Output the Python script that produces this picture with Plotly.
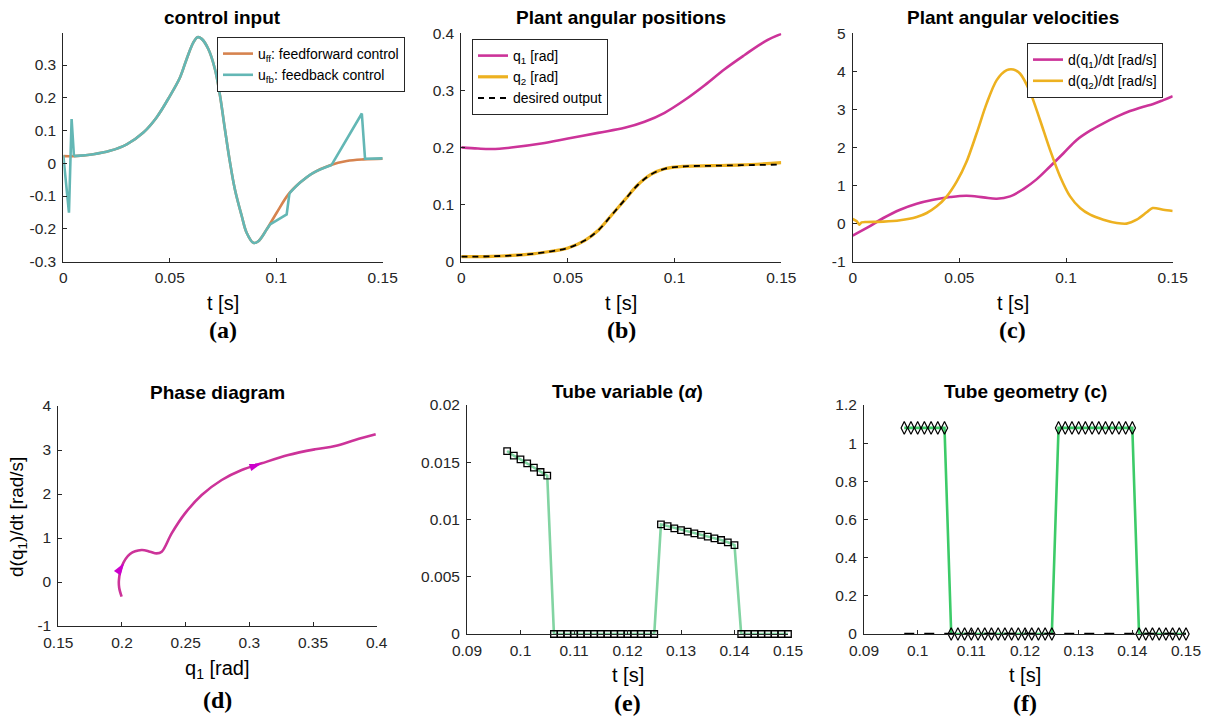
import math
import plotly.graph_objects as go

# ---------------- data ----------------
# (a) control input
t_ff = [0, 0.005, 0.0141, 0.0219, 0.0298, 0.0376, 0.0438, 0.0501, 0.0548, 0.0579, 0.0611, 0.063, 0.065,
        0.0681, 0.0712, 0.0736, 0.0759, 0.0783, 0.0806, 0.0838, 0.0861, 0.0893, 0.0916, 0.0955, 0.1002,
        0.1057, 0.1112, 0.1174, 0.1253, 0.1331, 0.141, 0.15]
u_ff = [0.022, 0.022, 0.0276, 0.038, 0.058, 0.094, 0.140, 0.206, 0.262, 0.318, 0.369, 0.385, 0.38,
        0.349, 0.288, 0.206, 0.104, 0.002, -0.080, -0.161, -0.212, -0.243, -0.238, -0.202, -0.151,
        -0.095, -0.059, -0.029, -0.006, 0.007, 0.012, 0.014]
t_fb = [0, 0.00266, 0.0039, 0.005, 0.0141, 0.0219, 0.0298, 0.0376, 0.0438, 0.0501, 0.0548, 0.0579, 0.0611,
        0.063, 0.065, 0.0681, 0.0712, 0.0736, 0.0759, 0.0783, 0.0806, 0.0838, 0.0861, 0.0893, 0.0916,
        0.0955, 0.0971, 0.1049, 0.1062, 0.1112, 0.1174, 0.126, 0.1402, 0.1417, 0.15]
u_fb = [0.0245, -0.151, 0.135, 0.022, 0.0276, 0.038, 0.058, 0.094, 0.140, 0.206, 0.262, 0.318, 0.369,
        0.385, 0.38, 0.349, 0.288, 0.206, 0.104, 0.002, -0.080, -0.161, -0.212, -0.243, -0.238,
        -0.202, -0.187, -0.156, -0.092, -0.059, -0.029, -0.005, 0.152, 0.014, 0.015]
# index ranges of u_fb: (start, end, smooth?)
fb_segments = [(0, 3, False), (3, 25, True), (25, 28, False), (28, 31, True), (31, 34, False)]

# (b) angular positions
t_q1 = [0, 0.0078, 0.0141, 0.0234, 0.0375, 0.05, 0.0641, 0.0766, 0.0859, 0.0953, 0.1047, 0.1141,
        0.1234, 0.1328, 0.1422, 0.15]
q1 = [0.2, 0.198, 0.1972, 0.1997, 0.2067, 0.2155, 0.2255, 0.2343, 0.2449, 0.2607, 0.283, 0.309,
      0.337, 0.362, 0.3856, 0.399]
t_q2 = [0, 0.0141, 0.0297, 0.0422, 0.05, 0.0578, 0.0641, 0.0703, 0.0766, 0.0828, 0.0891, 0.0953,
        0.1047, 0.1172, 0.1313, 0.15]
q2 = [0.0085, 0.0091, 0.012, 0.0179, 0.0238, 0.0367, 0.0543, 0.0806, 0.108, 0.1345, 0.153, 0.1625,
      0.1669, 0.168, 0.1692, 0.1733]
q2_des = [0.0085, 0.0091, 0.012, 0.0179, 0.0238, 0.0367, 0.0543, 0.0806, 0.108, 0.1345, 0.153, 0.1625,
          0.1667, 0.1678, 0.1688, 0.1698]

# (c) angular velocities
t_dq1 = [0, 0.0066, 0.0144, 0.0222, 0.03, 0.0378, 0.0456, 0.0534, 0.0613, 0.0675, 0.0738, 0.08, 0.0863,
         0.0925, 0.0988, 0.105, 0.1113, 0.1175, 0.1238, 0.13, 0.1363, 0.1409, 0.1456, 0.15]
dq1 = [-0.319, -0.118, 0.144, 0.362, 0.52, 0.624, 0.694, 0.729, 0.686, 0.65, 0.712, 0.904, 1.166,
       1.498, 1.847, 2.197, 2.441, 2.633, 2.808, 2.956, 3.07, 3.14, 3.244, 3.349]
t_dq2 = [0, 0.0019, 0.0031, 0.0042, 0.0066, 0.0144, 0.0222, 0.03, 0.0347, 0.0394, 0.0441, 0.0488,
         0.0534, 0.0581, 0.0628, 0.0675, 0.0722, 0.0753, 0.0784, 0.0831, 0.0878, 0.0925, 0.0972,
         0.1019, 0.1066, 0.1113, 0.1175, 0.1238, 0.1284, 0.1331, 0.1378, 0.1406, 0.1456, 0.15]
dq2 = [0.118, 0.057, -0.03, 0.03, 0.039, 0.048, 0.083, 0.17, 0.275, 0.45, 0.712, 1.105, 1.629, 2.371,
       3.157, 3.769, 4.03, 4.048, 3.943, 3.462, 2.72, 1.934, 1.236, 0.712, 0.406, 0.231, 0.1, 0.013,
       -0.004, 0.1, 0.293, 0.406, 0.362, 0.328]

# (d) phase diagram
q1_ph = [0.1997, 0.1978, 0.1976, 0.1997, 0.2063, 0.2154, 0.222, 0.2272, 0.2312, 0.239, 0.2495, 0.2626,
         0.2783, 0.294, 0.3097, 0.3306, 0.3516, 0.3673, 0.383, 0.3992]
dq1_ph = [-0.333, -0.13, 0.045, 0.348, 0.636, 0.727, 0.689, 0.65, 0.689, 1.106, 1.56, 1.977, 2.318,
          2.545, 2.697, 2.886, 3.015, 3.09, 3.227, 3.356]
# direction arrows: (index of tail point, index of head point, fraction toward head)
ph_arrows = [(3, 4, 0.3), (13, 14, 1.0)]

# (e), (f) tube variables
t_tube = [0.0975, 0.09875, 0.1, 0.10125, 0.1025, 0.10375, 0.105, 0.10625, 0.1075, 0.10875, 0.11,
          0.11125, 0.1125, 0.11375, 0.115, 0.11625, 0.1175, 0.11875, 0.12, 0.12125, 0.1225, 0.12375,
          0.125, 0.12625, 0.1275, 0.12875, 0.13, 0.13125, 0.1325, 0.13375, 0.135, 0.13625, 0.1375,
          0.13875, 0.14, 0.14125, 0.1425, 0.14375, 0.145, 0.14625, 0.1475, 0.14875, 0.15]
alpha = [0.01598, 0.01557, 0.01525, 0.0149, 0.01453, 0.01415, 0.01383,
         0, 0, 0, 0, 0, 0, 0, 0, 0, 0, 0, 0, 0, 0, 0, 0,
         0.00958, 0.00943, 0.00923, 0.00908, 0.00894, 0.00879, 0.00865, 0.0085, 0.00836, 0.00821,
         0.00801, 0.00777,
         0, 0, 0, 0, 0, 0, 0, 0]
c_geo = [1.08, 1.08, 1.08, 1.08, 1.08, 1.08, 1.08,
         0, 0, 0, 0, 0, 0, 0, 0, 0, 0, 0, 0, 0, 0, 0, 0,
         1.08, 1.08, 1.08, 1.08, 1.08, 1.08, 1.08, 1.08, 1.08, 1.08, 1.08, 1.08,
         0, 0, 0, 0, 0, 0, 0, 0]
t_cref = [0.0975, 0.15]
c_ref = [0, 0]

# tick labels
tv_t = [0, 0.05, 0.1, 0.15]
tt_t = ["0", "0.05", "0.1", "0.15"]
tv_a = [-0.3, -0.2, -0.1, 0, 0.1, 0.2, 0.3]
tt_a = ["-0.3", "-0.2", "-0.1", "0", "0.1", "0.2", "0.3"]
tv_b = [0, 0.1, 0.2, 0.3, 0.4]
tt_b = ["0", "0.1", "0.2", "0.3", "0.4"]
tv_c = [-1, 0, 1, 2, 3, 4, 5]
tt_c = ["-1", "0", "1", "2", "3", "4", "5"]
tv_dx = [0.15, 0.2, 0.25, 0.3, 0.35, 0.4]
tt_dx = ["0.15", "0.2", "0.25", "0.3", "0.35", "0.4"]
tv_dy = [-1, 0, 1, 2, 3, 4]
tt_dy = ["-1", "0", "1", "2", "3", "4"]
tv_ex = [0.09, 0.1, 0.11, 0.12, 0.13, 0.14, 0.15]
tt_ex = ["0.09", "0.1", "0.11", "0.12", "0.13", "0.14", "0.15"]
tv_ey = [0, 0.005, 0.01, 0.015, 0.02]
tt_ey = ["0", "0.005", "0.01", "0.015", "0.02"]
tv_fy = [0, 0.2, 0.4, 0.6, 0.8, 1, 1.2]
tt_fy = ["0", "0.2", "0.4", "0.6", "0.8", "1", "1.2"]

# ---------------- styling ----------------
W, H = 1213, 719
FONT = "Liberation Sans"
AX = "#262626"
C_FF = "#D6834F"
C_FB = "#63B7B5"
C_MAG = "#CC3399"
C_ARROW = "#CC00CC"
C_YEL = "#EDB120"
C_GR_E = "#82D4A2"
C_GR_F = "#3CCB68"

# axis pixel boxes (left, right, top, bottom)
box_a = (63.3, 382.7, 33.3, 261.5)
box_b = (461.3, 781.3, 33.3, 261.5)
box_c = (852.7, 1172.7, 33.3, 261.5)
box_d = (58.3, 376.7, 406, 626)
box_e = (467, 788, 405, 634)
box_f = (864, 1186, 405, 634)

range_dx = [0.15, 0.4]
range_dy = [-1, 4]


def px_dom(a, b, total):
    return [a / total, b / total]


def ydom(top, bottom):
    return [1 - bottom / H, 1 - top / H]


fig = go.Figure()

# (a)
fig.add_trace(go.Scatter(x=t_ff, y=u_ff, mode="lines", line=dict(color=C_FF, width=2.6, shape="spline"),
                         name="u<sub>ff</sub>: feedforward control", xaxis="x", yaxis="y", legend="legend"))
for k, (i0, i1, smooth) in enumerate(fb_segments):
    fig.add_trace(go.Scatter(x=t_fb[i0:i1 + 1], y=u_fb[i0:i1 + 1], mode="lines",
                             line=dict(color=C_FB, width=2.6, shape="spline" if smooth else "linear"),
                             name="u<sub>fb</sub>: feedback control", legendgroup="fb",
                             showlegend=(k == 0), xaxis="x", yaxis="y", legend="legend"))
# (b)
fig.add_trace(go.Scatter(x=t_q1, y=q1, mode="lines", line=dict(color=C_MAG, width=2.6, shape="spline"),
                         name="q<sub>1</sub> [rad]", xaxis="x2", yaxis="y2", legend="legend2"))
fig.add_trace(go.Scatter(x=t_q2, y=q2, mode="lines", line=dict(color=C_YEL, width=3.2, shape="spline"),
                         name="q<sub>2</sub> [rad]", xaxis="x2", yaxis="y2", legend="legend2"))
fig.add_trace(go.Scatter(x=t_q2, y=q2_des, mode="lines",
                         line=dict(color="black", width=1.8, dash="6px,5px", shape="spline"),
                         name="desired output", xaxis="x2", yaxis="y2", legend="legend2"))
# (c)
fig.add_trace(go.Scatter(x=t_dq1, y=dq1, mode="lines", line=dict(color=C_MAG, width=2.6, shape="spline"),
                         name="d(q<sub>1</sub>)/dt [rad/s]", xaxis="x3", yaxis="y3", legend="legend3"))
fig.add_trace(go.Scatter(x=t_dq2, y=dq2, mode="lines",
                         line=dict(color=C_YEL, width=2.6, shape="spline", smoothing=0.8),
                         name="d(q<sub>2</sub>)/dt [rad/s]", xaxis="x3", yaxis="y3", legend="legend3"))
# (d)
fig.add_trace(go.Scatter(x=q1_ph, y=dq1_ph, mode="lines", line=dict(color=C_MAG, width=2.6, shape="spline"),
                         showlegend=False, xaxis="x4", yaxis="y4"))
sx = (box_d[1] - box_d[0]) / (range_dx[1] - range_dx[0])
sy = (box_d[3] - box_d[2]) / (range_dy[1] - range_dy[0])
ar_x, ar_y, ar_ang = [], [], []
for i_tail, i_head, frac in ph_arrows:
    dx = q1_ph[i_head] - q1_ph[i_tail]
    dy = dq1_ph[i_head] - dq1_ph[i_tail]
    ar_x.append(q1_ph[i_tail] + frac * dx)
    ar_y.append(dq1_ph[i_tail] + frac * dy)
    ar_ang.append(math.degrees(math.atan2(dx * sx, dy * sy)))
fig.add_trace(go.Scatter(x=ar_x, y=ar_y, mode="markers",
                         marker=dict(symbol="arrow", size=13, color=C_ARROW, angle=ar_ang,
                                     angleref="up", line=dict(width=0)),
                         showlegend=False, xaxis="x4", yaxis="y4"))
# (e)
fig.add_trace(go.Scatter(x=t_tube, y=alpha, mode="lines+markers",
                         line=dict(color=C_GR_E, width=2.6),
                         marker=dict(symbol="square", size=6.5, color="rgba(0,0,0,0)",
                                     line=dict(color="black", width=1.3)),
                         showlegend=False, xaxis="x5", yaxis="y5", cliponaxis=False))
# (f)
fig.add_trace(go.Scatter(x=t_tube, y=c_geo, mode="lines", line=dict(color=C_GR_F, width=2.6),
                         showlegend=False, xaxis="x6", yaxis="y6"))
fig.add_trace(go.Scatter(x=t_cref, y=c_ref, mode="lines",
                         line=dict(color="black", width=2.4, dash="10px,10px"),
                         showlegend=False, xaxis="x6", yaxis="y6", cliponaxis=False))
fig.add_trace(go.Scatter(x=t_tube, y=c_geo, mode="markers",
                         marker=dict(symbol="diamond-tall", size=9, color="rgba(0,0,0,0)",
                                     line=dict(color="black", width=1.2)),
                         showlegend=False, xaxis="x6", yaxis="y6", cliponaxis=False))


def axis(dom, rng, tv, tt, anchor, standoff):
    return dict(domain=dom, range=rng, tickvals=tv, ticktext=tt, anchor=anchor, automargin=False,
                showline=True, linecolor=AX, linewidth=1, ticks="inside", ticklen=4,
                tickcolor=AX, showgrid=False, zeroline=False, ticklabelstandoff=standoff,
                tickfont=dict(family=FONT, size=15.5, color=AX))


layout_axes = {}
specs = [
    ("", box_a, [0, 0.15], tv_t, tt_t, [-0.3, 0.397], tv_a, tt_a),
    ("2", box_b, [0, 0.15], tv_t, tt_t, [0, 0.4], tv_b, tt_b),
    ("3", box_c, [0, 0.15], tv_t, tt_t, [-1, 5], tv_c, tt_c),
    ("4", box_d, range_dx, tv_dx, tt_dx, range_dy, tv_dy, tt_dy),
    ("5", box_e, [0.09, 0.15], tv_ex, tt_ex, [0, 0.02], tv_ey, tt_ey),
    ("6", box_f, [0.09, 0.15], tv_ex, tt_ex, [0, 1.2], tv_fy, tt_fy),
]
for suf, (x0, x1, y0, y1), xr, xtv, xtt, yr, ytv, ytt in specs:
    layout_axes["xaxis" + suf] = axis(px_dom(x0, x1, W), xr, xtv, xtt, "y" + suf, 2)
    layout_axes["yaxis" + suf] = axis(ydom(y0, y1), yr, ytv, ytt, "x" + suf, 3)

legend_common = dict(bgcolor="white", bordercolor=AX, borderwidth=1,
                     font=dict(family=FONT, size=14, color="black"),
                     itemwidth=30, tracegroupgap=0, yanchor="top")

fig.update_layout(
    width=W, height=H, autosize=False,
    margin=dict(l=0, r=0, t=0, b=0),
    paper_bgcolor="white", plot_bgcolor="white",
    legend=dict(x=217 / W, y=1 - 37 / H, xanchor="left", **legend_common),
    legend2=dict(x=472 / W, y=1 - 39 / H, xanchor="left", **legend_common),
    legend3=dict(x=1163 / W, y=1 - 43 / H, xanchor="right", **legend_common),
    **layout_axes,
)

ann = []


def add_text(text, xpx, ypx, size, family=FONT, angle=0):
    ann.append(dict(text=text, x=xpx / W, y=1 - ypx / H, xref="paper", yref="paper",
                    showarrow=False, xanchor="center", yanchor="middle", textangle=angle,
                    font=dict(family=family, size=size, color="black")))


boxes = [box_a, box_b, box_c, box_d, box_e, box_f]
titles = ["control input", "Plant angular positions", "Plant angular velocities",
          "Phase diagram", "Tube variable (<i>α</i>)", "Tube geometry (c)"]
title_y = [18, 18, 18, 392, 391, 391]
xlabels = ["t [s]", "t [s]", "t [s]", "q<sub>1</sub> [rad]", "t [s]", "t [s]"]
xlabel_y = [303, 303, 303, 669, 675, 675]
panel = ["(a)", "(b)", "(c)", "(d)", "(e)", "(f)"]
panel_y = [330, 330, 330, 700, 703, 703]
for b, ti, ty, xl, xy, pl, py in zip(boxes, titles, title_y, xlabels, xlabel_y, panel, panel_y):
    cx = (b[0] + b[1]) / 2
    add_text("<b>" + ti + "</b>", cx, ty, 19)
    add_text(xl, cx, xy, 20)
    add_text("<b>" + pl + "</b>", cx, py, 24, family="Liberation Serif")

add_text("d(q<sub>1</sub>)/dt [rad/s]", 18, 517, 19, angle=-90)

fig.update_layout(annotations=ann)
fig.write_html("out.html", config={"displayModeBar": False},
               post_script="document.body.style.margin='0px';")
